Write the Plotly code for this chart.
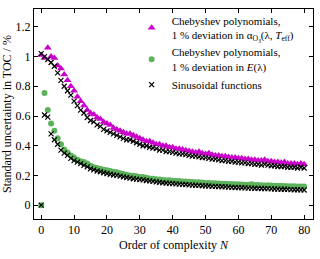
import plotly.graph_objects as go

N = list(range(0, 81))

cheb_alpha = [1.01, 0.99, 1.06, 1.0, 0.99, 0.94, 0.92, 0.88, 0.84, 0.80,
              0.77, 0.73, 0.70, 0.67, 0.64, 0.62, 0.61, 0.59, 0.58, 0.56,
              0.55, 0.54, 0.52, 0.51, 0.50, 0.49, 0.48, 0.48, 0.47, 0.46,
              0.45, 0.44, 0.43, 0.43, 0.42, 0.41, 0.41, 0.40, 0.40, 0.39,
              0.39, 0.38, 0.38, 0.375, 0.37, 0.365, 0.36, 0.355, 0.36, 0.35,
              0.345, 0.35, 0.34, 0.335, 0.335, 0.33, 0.33, 0.325, 0.32, 0.32,
              0.315, 0.315, 0.31, 0.31, 0.305, 0.305, 0.30, 0.30, 0.305, 0.295,
              0.295, 0.29, 0.29, 0.285, 0.29, 0.28, 0.28, 0.28, 0.275, 0.28, 0.275]

sin_alpha = [1.02, 1.0, 0.98, 0.96, 0.935, 0.89, 0.84, 0.80, 0.77, 0.74,
             0.70, 0.67, 0.64, 0.62, 0.59, 0.57, 0.56, 0.54, 0.53, 0.51,
             0.50, 0.49, 0.48, 0.47, 0.46, 0.45, 0.44, 0.44, 0.43, 0.42,
             0.41, 0.40, 0.40, 0.39, 0.385, 0.38, 0.37, 0.37, 0.36, 0.36,
             0.355, 0.35, 0.345, 0.345, 0.34, 0.335, 0.33, 0.33, 0.325, 0.32,
             0.32, 0.315, 0.31, 0.31, 0.305, 0.30, 0.30, 0.295, 0.295, 0.29,
             0.29, 0.285, 0.285, 0.28, 0.28, 0.275, 0.275, 0.27, 0.275, 0.27,
             0.265, 0.265, 0.26, 0.26, 0.26, 0.255, 0.255, 0.255, 0.25, 0.255, 0.25]

cheb_E = [0.0, 0.755, 0.64, 0.55, 0.50, 0.45, 0.41, 0.375, 0.355, 0.335,
          0.32, 0.305, 0.295, 0.29, 0.28, 0.265, 0.255, 0.25, 0.245, 0.238,
          0.235, 0.23, 0.225, 0.222, 0.215, 0.21, 0.205, 0.20, 0.198, 0.195,
          0.19, 0.19, 0.185, 0.18, 0.178, 0.175, 0.172, 0.17, 0.168, 0.167,
          0.165, 0.163, 0.162, 0.16, 0.16, 0.158, 0.156, 0.155, 0.155, 0.152,
          0.15, 0.15, 0.148, 0.147, 0.146, 0.145, 0.145, 0.143, 0.142, 0.14,
          0.14, 0.139, 0.138, 0.137, 0.14, 0.136, 0.135, 0.134, 0.133, 0.134,
          0.132, 0.131, 0.13, 0.13, 0.129, 0.128, 0.128, 0.127, 0.126, 0.126, 0.125]

sin_E = [0.0, 0.607, 0.593, 0.48, 0.44, 0.41, 0.37, 0.35, 0.335, 0.315,
         0.30, 0.29, 0.28, 0.268, 0.258, 0.245, 0.238, 0.23, 0.225, 0.218,
         0.213, 0.208, 0.203, 0.20, 0.195, 0.19, 0.186, 0.182, 0.178, 0.175,
         0.172, 0.17, 0.166, 0.163, 0.16, 0.157, 0.154, 0.151, 0.149, 0.147,
         0.145, 0.143, 0.142, 0.14, 0.139, 0.137, 0.135, 0.134, 0.133, 0.131,
         0.13, 0.129, 0.127, 0.126, 0.125, 0.124, 0.123, 0.121, 0.12, 0.119,
         0.118, 0.117, 0.116, 0.115, 0.115, 0.114, 0.113, 0.112, 0.111, 0.111,
         0.11, 0.109, 0.108, 0.107, 0.107, 0.106, 0.105, 0.104, 0.104, 0.103, 0.102]

names = ["Chebyshev polynomials,<br>1 % deviation in α<sub>O<sub>3</sub></sub>(λ, <i>T</i><sub>eff</sub>)",
         "Chebyshev polynomials,<br>1 % deviation in <i>E</i>(λ)",
         "Sinusoidal functions"]

MAG = "#cc00cc"
GRN = "#5cb35c"
FONT = "Liberation Serif, Times New Roman, serif"

fig = go.Figure()
fig.add_trace(go.Scatter(x=N, y=cheb_alpha, mode="markers", name=names[0],
                         marker=dict(symbol="triangle-up", size=7, color=MAG)))
fig.add_trace(go.Scatter(x=N, y=cheb_E, mode="markers", name=names[1],
                         marker=dict(symbol="circle", size=6, color=GRN)))
fig.add_trace(go.Scatter(x=N, y=sin_alpha, mode="markers", name=names[2],
                         marker=dict(symbol="x-thin", size=5, color="black",
                                     line=dict(width=1.2, color="black"))))
fig.add_trace(go.Scatter(x=N, y=sin_E, mode="markers", name=names[2], showlegend=False,
                         marker=dict(symbol="x-thin", size=5, color="black",
                                     line=dict(width=1.2, color="black"))))

axis_common = dict(showline=True, linecolor="black", linewidth=1, mirror="ticks",
                   ticks="inside", ticklen=4, tickcolor="black", showgrid=False,
                   zeroline=False, automargin=False,
                   tickfont=dict(family=FONT, size=12, color="black"))

fig.update_layout(
    width=320, height=259,
    margin=dict(l=34, r=7, t=7, b=40),
    plot_bgcolor="white", paper_bgcolor="white",
    font=dict(family=FONT, size=12, color="black"),
    xaxis=dict(range=[-2.2, 82.7], tickvals=[0, 10, 20, 30, 40, 50, 60, 70, 80],
               title=dict(text="Order of complexity <i>N</i>", standoff=4,
                          font=dict(family=FONT, size=12)), **axis_common),
    yaxis=dict(range=[-0.093, 1.32], tickvals=[0, 0.2, 0.4, 0.6, 0.8, 1, 1.2],
               ticktext=["0", "0.2", "0.4", "0.6", "0.8", "1", "1.2"],
               title=dict(text="Standard uncertainty in TOC / %", standoff=2,
                          font=dict(family=FONT, size=12)), **axis_common),
    legend=dict(x=0.35, y=1.01, xanchor="left", yanchor="top",
                bgcolor="rgba(0,0,0,0)", font=dict(family=FONT, size=11, color="black"),
                tracegroupgap=0, itemwidth=30),
    showlegend=True,
)

fig.write_html("out.html", config={"displayModeBar": False},
               post_script="document.body.style.margin='0';")
